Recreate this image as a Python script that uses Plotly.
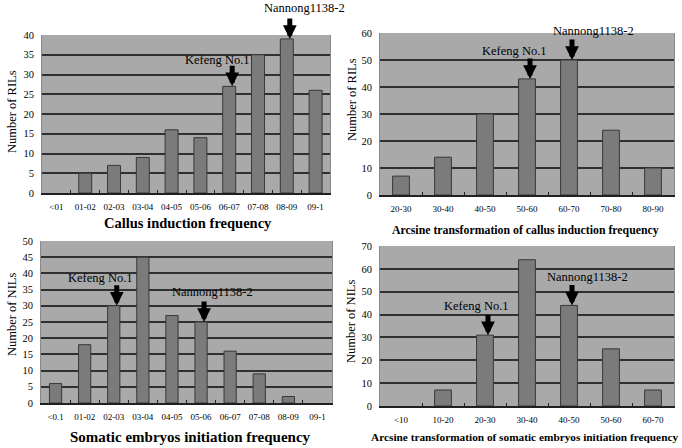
import plotly.graph_objects as go

# ---- data ----
cats1 = ["<01", "01-02", "02-03", "03-04", "04-05", "05-06", "06-07", "07-08", "08-09", "09-1"]
vals1 = [0, 5, 7, 9, 16, 14, 27, 35, 39, 26]

cats2 = ["20-30", "30-40", "40-50", "50-60", "60-70", "70-80", "80-90"]
vals2 = [7, 14, 30, 43, 50, 24, 10]

cats3 = ["<0.1", "01-02", "02-03", "03-04", "04-05", "05-06", "06-07", "07-08", "08-09", "09-1"]
vals3 = [6, 18, 30, 45, 27, 25, 16, 9, 2, 0]

cats4 = ["<10", "10-20", "20-30", "30-40", "40-50", "50-60", "60-70"]
vals4 = [0, 7, 31, 64, 44, 25, 7]

titles = ["Callus induction frequency",
          "Arcsine transformation of callus induction frequency",
          "Somatic embryos initiation frequency",
          "Arcsine transformation of somatic embryos initiation frequency"]
ytitles = ["Number of RILs", "Number of RILs", "Number of NILs", "Number of NILs"]
yranges = [40, 60, 50, 70]
ydticks = [5, 10, 5, 10]

kefeng = [(1, "06-07"), (2, "50-60"), (3, "02-03"), (4, "20-30")]
nannong = [(1, "08-09"), (2, "60-70"), (3, "05-06"), (4, "40-50")]

# ---- styles ----
W, H = 682, 448
SERIF = "Liberation Serif, Times New Roman, serif"
BG = "#a9a9a9"
BAR = "#7b7b7b"
GRID = "#303030"

def px_dom(a, b, total, flip=False):
    if flip:
        return [1 - b / total, 1 - a / total]
    return [a / total, b / total]

domains = [
    (px_dom(42, 330, W), px_dom(35, 193, H, True)),
    (px_dom(380, 674, W), px_dom(33, 195, H, True)),
    (px_dom(41, 332, W), px_dom(241, 403, H, True)),
    (px_dom(380, 674, W), px_dom(246, 406, H, True)),
]
barwidths = [0.45, 0.4, 0.42, 0.4]
cats_all = [cats1, cats2, cats3, cats4]
vals_all = [vals1, vals2, vals3, vals4]

title_pos = [(188, 223, 14.5, True), (525, 230, 11.8, True), (191, 437, 15, True), (524, 437, 11.3, True)]
ytitle_pos = [(12, 112), (352, 100), (12, 315), (351, 322)]

fig = go.Figure()
layout = dict(width=W, height=H, margin=dict(l=0, r=0, t=0, b=0, autoexpand=False),
              paper_bgcolor="white", plot_bgcolor=BG, showlegend=False,
              font=dict(family=SERIF, color="black"))

ann = []
for i in range(4):
    n = i + 1
    xa = "x" if n == 1 else f"x{n}"
    ya = "y" if n == 1 else f"y{n}"
    line_cols = ["#383838" if v > 0 else "rgba(0,0,0,0)" for v in vals_all[i]]
    fig.add_trace(go.Bar(x=cats_all[i], y=vals_all[i], width=barwidths[i],
                         marker=dict(color=BAR, line=dict(color=line_cols, width=1)),
                         xaxis=xa, yaxis=ya, hoverinfo="skip"))
    xk = "xaxis" if n == 1 else f"xaxis{n}"
    yk = "yaxis" if n == 1 else f"yaxis{n}"
    layout[xk] = dict(domain=domains[i][0], anchor=ya, type="category",
                      categoryorder="array", categoryarray=cats_all[i],
                      range=[-0.5, len(cats_all[i]) - 0.5],
                      showgrid=False, showline=True, linecolor="#202020", linewidth=1.5,
                      ticks="inside", ticklen=3, tickcolor="#202020", tickson="boundaries",
                      tickfont=dict(family=SERIF, size=9, color="black"),
                      ticklabelstandoff=4, tickangle=0, fixedrange=True, automargin=False)
    layout[yk] = dict(domain=domains[i][1], anchor=xa, range=[0, yranges[i]],
                      dtick=ydticks[i], tick0=0, showgrid=True, gridcolor=GRID, gridwidth=2,
                      zeroline=False, showline=True, linecolor="#8a8a8a", linewidth=1, mirror=True,
                      ticks="", tickfont=dict(family=SERIF, size=10.5, color="black"),
                      ticklabelstandoff=5, fixedrange=True, automargin=False)
    cx, cy, fs, bold = title_pos[i]
    ann.append(dict(x=cx / W, y=1 - cy / H, xref="paper", yref="paper",
                    text=("<b>%s</b>" % titles[i]) if bold else titles[i], showarrow=False,
                    xanchor="center", yanchor="middle",
                    font=dict(family=SERIF, size=fs, color="black")))
    tx, ty = ytitle_pos[i]
    ann.append(dict(x=tx / W, y=1 - ty / H, xref="paper", yref="paper", text=ytitles[i],
                    showarrow=False, textangle=-90, xanchor="center", yanchor="middle",
                    font=dict(family=SERIF, size=12.5, color="black")))

fig.update_layout(**layout)

def val(panel, cat):
    return vals_all[panel - 1][cats_all[panel - 1].index(cat)]

k_text_shift = {1: (-12, 26), 2: (-13, 28), 3: (-13, 28), 4: (-8, 29)}
n_text_shift = {1: (18, 31), 2: (24, 29), 3: (11, 30), 4: (18, 28)}
for group, label, shifts in [(kefeng, "Kefeng No.1", k_text_shift), (nannong, "Nannong1138-2", n_text_shift)]:
    for panel, cat in group:
        xa = "x" if panel == 1 else f"x{panel}"
        ya = "y" if panel == 1 else f"y{panel}"
        v = val(panel, cat)
        ann.append(dict(x=cat, y=v, xref=xa, yref=ya, text="", showarrow=True,
                        ax=0, ay=-22, arrowhead=2, arrowsize=0.55, arrowwidth=5,
                        arrowcolor="black", standoff=0, xshift=3))
        dx, dy = shifts[panel]
        ann.append(dict(x=cat, y=v, xref=xa, yref=ya, text=label, showarrow=False,
                        xshift=dx, yshift=dy,
                        font=dict(family=SERIF, size=12.5, color="black")))
fig.update_layout(annotations=ann)

fig.write_html("out.html", config={"displayModeBar": False},
               post_script="document.body.style.margin='0';document.body.style.overflow='hidden';")
